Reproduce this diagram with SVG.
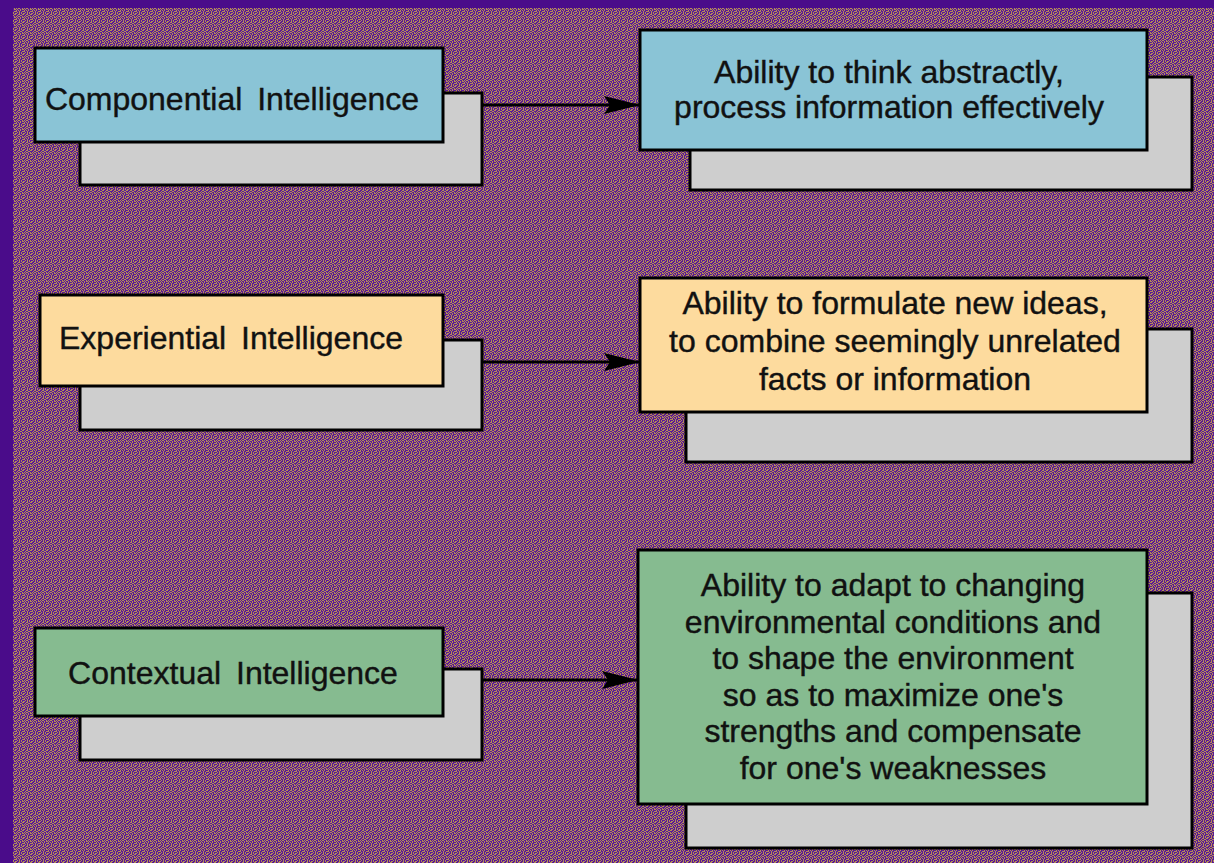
<svg xmlns="http://www.w3.org/2000/svg" width="1214" height="863" viewBox="0 0 1214 863">
<defs>
<pattern id="dither" x="0" y="0" width="8" height="8" patternUnits="userSpaceOnUse">
<rect width="8" height="8" fill="#5A1896"/>
<rect x="0" y="0" width="1" height="1" fill="#B48E55"/>
<rect x="2" y="0" width="2" height="1" fill="#B48E55"/>
<rect x="6" y="0" width="1" height="2" fill="#B48E55"/>
<rect x="1" y="1" width="1" height="1" fill="#B48E55"/>
<rect x="4" y="1" width="1" height="2" fill="#B48E55"/>
<rect x="0" y="2" width="1" height="2" fill="#B48E55"/>
<rect x="2" y="2" width="1" height="1" fill="#B48E55"/>
<rect x="6" y="3" width="2" height="1" fill="#B48E55"/>
<rect x="3" y="3" width="1" height="2" fill="#B48E55"/>
<rect x="1" y="4" width="1" height="1" fill="#B48E55"/>
<rect x="5" y="4" width="1" height="2" fill="#B48E55"/>
<rect x="0" y="5" width="1" height="1" fill="#B48E55"/>
<rect x="7" y="5" width="1" height="2" fill="#B48E55"/>
<rect x="2" y="6" width="2" height="1" fill="#B48E55"/>
<rect x="1" y="7" width="1" height="1" fill="#B48E55"/>
<rect x="4" y="7" width="2" height="1" fill="#B48E55"/>
<rect x="6" y="6" width="1" height="1" fill="#B48E55"/>
<rect x="3" y="5" width="1" height="1" fill="#B48E55"/>
<rect x="7" y="1" width="1" height="1" fill="#B48E55"/>
</pattern>
<marker id="arrowBig" viewBox="0 0 36 18" refX="36" refY="9" markerWidth="36" markerHeight="18" markerUnits="userSpaceOnUse" orient="auto">
<path d="M0,0 L36,9 L0,18 L6,9 Z" fill="#000"/>
</marker>
</defs>
<style>
.shadow{fill:#CECECE;stroke:#000;stroke-width:3}
.blue{fill:#8AC4D6;stroke:#000;stroke-width:3}
.yellow{fill:#FDDB9E;stroke:#000;stroke-width:3}
.green{fill:#86BB90;stroke:#000;stroke-width:3}
.lbl{font-family:"Liberation Sans",Arial,sans-serif;font-size:32px;fill:#111;stroke:#111;stroke-width:0.4;text-anchor:middle}
.conn{stroke:#000;stroke-width:3;fill:none}
</style>
<rect x="0" y="0" width="1214" height="863" fill="#4A0C8A"/>
<rect x="13" y="8" width="1201" height="855" fill="url(#dither)"/>

<g id="connectors">
<line class="conn" x1="482" y1="105" x2="640" y2="105" marker-end="url(#arrowBig)"/>
<line class="conn" x1="482" y1="362" x2="640" y2="362" marker-end="url(#arrowBig)"/>
<line class="conn" x1="482" y1="680" x2="638" y2="680" marker-end="url(#arrowBig)"/>
</g>

<g id="componential">
<rect class="shadow" x="80" y="93" width="402" height="92"/>
<rect class="blue" x="35" y="48" width="408" height="94"/>
<text class="lbl" x="232" y="110" word-spacing="6">Componential Intelligence</text>
</g>

<g id="componential-desc">
<rect class="shadow" x="690" y="77" width="502" height="113"/>
<rect class="blue" x="640" y="30" width="507" height="120"/>
<text class="lbl" x="889" y="83">Ability to think abstractly,</text>
<text class="lbl" x="889" y="118">process information effectively</text>
</g>

<g id="experiential">
<rect class="shadow" x="80" y="340" width="402" height="90"/>
<rect class="yellow" x="40" y="295" width="403" height="91"/>
<text class="lbl" x="231" y="349" word-spacing="6">Experiential Intelligence</text>
</g>

<g id="experiential-desc">
<rect class="shadow" x="686" y="329" width="506" height="133"/>
<rect class="yellow" x="640" y="278" width="507" height="134"/>
<text class="lbl" x="895" y="314">Ability to formulate new ideas,</text>
<text class="lbl" x="895" y="352">to combine seemingly unrelated</text>
<text class="lbl" x="895" y="390">facts or information</text>
</g>

<g id="contextual">
<rect class="shadow" x="80" y="669" width="402" height="91"/>
<rect class="green" x="35" y="628" width="408" height="88"/>
<text class="lbl" x="233" y="684" word-spacing="6">Contextual Intelligence</text>
</g>

<g id="contextual-desc">
<rect class="shadow" x="686" y="593" width="506" height="255"/>
<rect class="green" x="638" y="550" width="509" height="254"/>
<text class="lbl" x="893" y="596">Ability to adapt to changing</text>
<text class="lbl" x="893" y="633">environmental conditions and</text>
<text class="lbl" x="893" y="669">to shape the environment</text>
<text class="lbl" x="893" y="706">so as to maximize one's</text>
<text class="lbl" x="893" y="742">strengths and compensate</text>
<text class="lbl" x="893" y="779">for one's weaknesses</text>
</g>
</svg>
